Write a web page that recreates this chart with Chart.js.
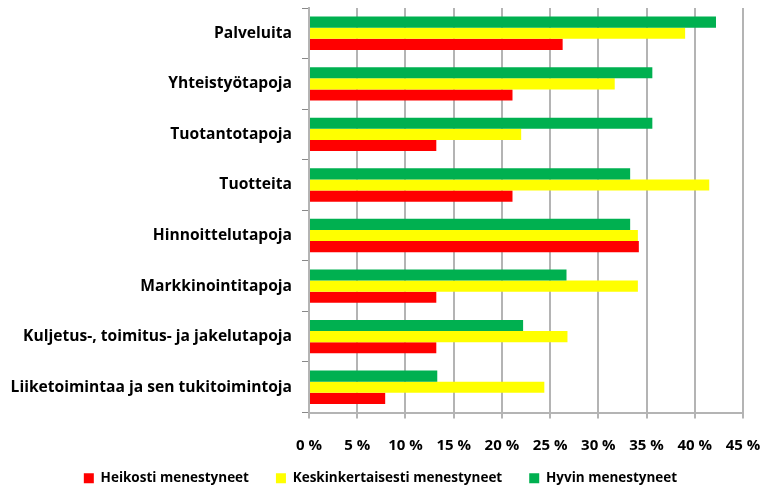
<!DOCTYPE html>
<html>
<head>
<meta charset="utf-8">
<script src="https://cdn.jsdelivr.net/npm/chart.js@4.4.0/dist/chart.umd.min.js"></script>
<style>
  html, body { margin: 0; padding: 0; background: #fff; }
  #wrap { position: relative; width: 761px; height: 487px; }
</style>
</head>
<body>
<div id="wrap"><canvas id="chart"></canvas></div>
<script>
// categories, top to bottom
const categories = [
  'Palveluita',
  'Yhteistyötapoja',
  'Tuotantotapoja',
  'Tuotteita',
  'Hinnoittelutapoja',
  'Markkinointitapoja',
  'Kuljetus-, toimitus- ja jakelutapoja',
  'Liiketoimintaa ja sen tukitoimintoja'
];

// percentages per series
const heikosti = [26.3, 21.1, 13.2, 21.1, 34.2, 13.2, 13.2, 7.9];
const keskinkertaisesti = [39.0, 31.7, 22.0, 41.5, 34.1, 34.1, 26.8, 24.4];
const hyvin = [42.2, 35.6, 35.6, 33.3, 33.3, 26.7, 22.2, 13.3];

const xTicks = [0, 5, 10, 15, 20, 25, 30, 35, 40, 45];

const gridGrey = '#b4b4b4';
const fontFam = '"Open Sans", Lato, sans-serif';

// x axis is kept short so the legend fits; let its labels draw below it
const unclipXLabels = {
    id: 'unclipXLabels',
    afterLayout(chart) {
        chart.scales.x.bottom = chart.height;
    }
};

new Chart(document.getElementById('chart'), {
    type: 'bar',
    data: {
        labels: categories,
        datasets: [
            { label: 'Hyvin menestyneet', data: hyvin, backgroundColor: '#00b050' },
            { label: 'Keskinkertaisesti menestyneet', data: keskinkertaisesti, backgroundColor: '#ffff00' },
            { label: 'Heikosti menestyneet', data: heikosti, backgroundColor: '#ff0000' }
        ]
    },
    plugins: [unclipXLabels],
    options: {
        indexAxis: 'y',
        responsive: true,
        maintainAspectRatio: false,
        animation: false,
        categoryPercentage: 0.66,
        barPercentage: 1.0,
        layout: { padding: { top: 8, right: 0, left: 0, bottom: -8 } },
        plugins: {
            tooltip: { enabled: false },
            legend: {
                position: 'bottom',
                reverse: true,
                labels: {
                    boxWidth: 10,
                    boxHeight: 10,
                    padding: 27,
                    color: '#000',
                    font: { family: fontFam, size: 13.5, weight: 'bold' }
                }
            }
        },
        scales: {
            x: {
                min: 0,
                max: 45,
                afterBuildTicks: function(scale) {
                    scale.ticks = xTicks.map(v => ({ value: v }));
                },
                afterFit: function(scale) {
                    scale.height = 32;
                    scale.paddingLeft = 0;
                    scale.paddingRight = 18;
                },
                grid: {
                    color: gridGrey,
                    lineWidth: 2,
                    tickLength: 6,
                    drawTicks: true
                },
                border: { color: gridGrey, width: 2 },
                ticks: {
                    color: '#000',
                    padding: 18,
                    maxRotation: 0,
                    font: { family: fontFam, size: 15, weight: 'bold' },
                    callback: v => v + ' %'
                }
            },
            y: {
                afterFit: function(scale) {
                    scale.width = 309;
                    scale.paddingTop = 0;
                    scale.paddingBottom = 0;
                },
                grid: {
                    offset: true,
                    drawOnChartArea: false,
                    color: '#888',
                    tickLength: 7
                },
                border: { color: gridGrey, width: 2 },
                ticks: {
                    color: '#000',
                    padding: 10,
                    font: { family: fontFam, size: 15.6, weight: 'bold' }
                }
            }
        }
    }
});
</script>
</body>
</html>
